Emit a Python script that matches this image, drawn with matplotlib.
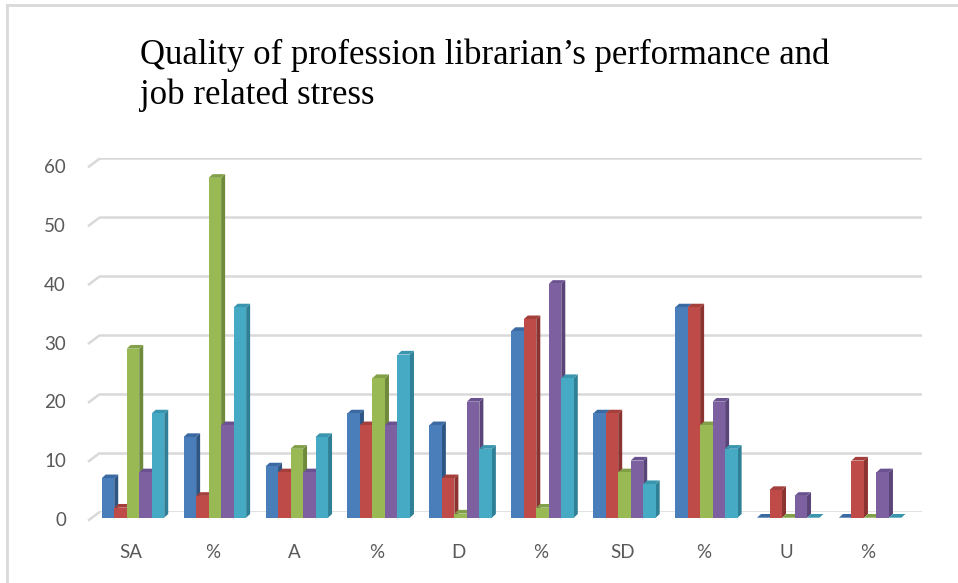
import matplotlib
matplotlib.use("Agg")
import matplotlib.pyplot as plt
from matplotlib.patches import Polygon, Rectangle
import numpy as np

# ---- data ----
categories = ["SA", "%", "A", "%", "D", "%", "SD", "%", "U", "%"]
series1 = [7, 14, 9, 18, 16, 32, 18, 36, 0, 0]      # blue
series2 = [2, 4, 8, 16, 7, 34, 18, 36, 5, 10]       # red
series3 = [29, 58, 12, 24, 1, 2, 8, 16, 0, 0]       # green
series4 = [8, 16, 8, 16, 20, 40, 10, 20, 4, 8]      # purple
series5 = [18, 36, 14, 28, 12, 24, 6, 12, 0, 0]     # cyan
y_ticks = [0, 10, 20, 30, 40, 50, 60]
title = "Quality of profession librarian\u2019s performance and\njob related stress"

# ---- styles ----
face_colors = ["#4A7EBB", "#BE4B48", "#98B954", "#7D60A0", "#46AAC5"]
side_colors = ["#2E5685", "#8A3330", "#6E8A3A", "#5A4478", "#2F7F96"]
top_colors = ["#3B6AA3", "#A53F3C", "#82A048", "#6A5290", "#3A95AE"]

W, H = 958, 583
fig = plt.figure(figsize=(W / 100, H / 100), dpi=100)
fig.patch.set_facecolor("white")

ax_left, ax_right = 100, 922
ax_bot, ax_top = 511.7, 158.3
ax = fig.add_axes([ax_left / W, (H - ax_bot) / H, (ax_right - ax_left) / W, (ax_bot - ax_top) / H])
xlim = (-0.375, 9.66)
ylim = (0, 60)
ax.set_xlim(*xlim)
ax.set_ylim(*ylim)
px_x = (ax_right - ax_left) / (xlim[1] - xlim[0])
px_y = (ax_bot - ax_top) / (ylim[1] - ylim[0])

for s in ax.spines.values():
    s.set_visible(False)
ax.set_yticks(y_ticks)
ax.set_yticklabels([])
ax.tick_params(axis="y", length=0)
ax.yaxis.grid(True, color="#D9D9D9", lw=1.8, zorder=0)
ax.set_axisbelow(True)

# slanted floor part of gridlines + y labels
gdx = 12 / px_x
gdy = 9 / px_y
for t in y_ticks:
    ax.plot([xlim[0] - gdx, xlim[0]], [t - gdy, t], color="#D9D9D9", lw=1.8,
            clip_on=False, zorder=0, solid_capstyle="butt")
    ax.text(xlim[0] - 34 / px_x, t - gdy, str(t), ha="right", va="center",
            fontsize=13.5, color="#595959", family="Lato")

x = np.arange(len(categories))
ax.set_xticks(x)
ax.set_xticklabels(categories, fontsize=13.5, color="#595959", family="Lato")
ax.tick_params(axis="x", length=0, pad=23)

# 3D-style bars
all_series = [series1, series2, series3, series4, series5]
bw = 12.5 / px_x
start = -29 / px_x
ddx = 4 / px_x
ddy = 3.7 / px_y
base = -6 / px_y
z = 2
for i in range(len(categories)):
    for k, ser in enumerate(all_series):
        v = ser[i]
        x0 = x[i] + start + k * bw
        x1 = x0 + bw
        top = base + max(v - 0.3, 0)
        side = Polygon([(x1, base), (x1 + ddx, base + ddy), (x1 + ddx, top + ddy), (x1, top)],
                       closed=True, facecolor=side_colors[k], edgecolor="none",
                       zorder=z, clip_on=False)
        topf = Polygon([(x0, top), (x1, top), (x1 + ddx, top + ddy), (x0 + ddx, top + ddy)],
                       closed=True, facecolor=top_colors[k], edgecolor="none",
                       zorder=z, clip_on=False)
        front = Rectangle((x0, base), bw, top - base, facecolor=face_colors[k],
                          edgecolor="none", zorder=z + 0.5, clip_on=False)
        ax.add_patch(side)
        ax.add_patch(topf)
        ax.add_patch(front)
        z += 1

# title
fig.text(140 / W, 1 - 38 / H, title, ha="left", va="top", fontsize=25,
         family="Liberation Serif", color="black", linespacing=1.27)

# chart border (top and left visible)
fig.add_artist(plt.Line2D([7 / W, 7 / W], [0, 1 - 5 / H], color="#D9D9D9", lw=2,
                          transform=fig.transFigure))
fig.add_artist(plt.Line2D([7 / W, 1], [1 - 5 / H, 1 - 5 / H], color="#D9D9D9", lw=2,
                          transform=fig.transFigure))

fig.savefig("out.png", dpi=100, facecolor="white")
